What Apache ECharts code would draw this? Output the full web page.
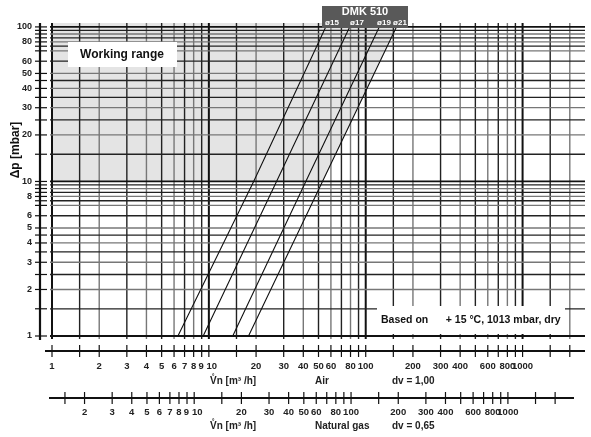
<!DOCTYPE html>
<html><head><meta charset="utf-8">
<script src="https://cdn.jsdelivr.net/npm/echarts@6/dist/echarts.min.js"></script>
<style>html,body{margin:0;padding:0;background:#fff}#c{width:591px;height:437px}</style>
</head><body><div id="c"></div>
<script>
// ---- data ----
const xGrid = [1,1.5,2,3,4,5,6,7,8,9,10,15,20,30,40,50,60,70,80,90,100,150,200,300,400,500,600,700,800,900,1000,1500,2000];
const yGrid = [1,1.5,2,2.5,3,3.5,4,4.5,5,6,7,7.5,8,8.5,9,9.5,10,15,20,25,30,35,40,45,50,60,70,75,80,85,90,95,100];
const yTicks = yGrid;
const yLabels = [1,2,3,4,5,6,8,10,20,30,40,50,60,80,100];
const airTicks = xGrid;
const airLabels = [1,2,3,4,5,6,7,8,9,10,20,30,40,50,60,80,100,200,300,400,600,800,1000];
const gasTicks = [1.5,2,3,4,5,6,7,8,9,10,15,20,30,40,50,60,70,80,90,100,150,200,300,400,500,600,700,800,900,1000,1500,2000];
const gasLabels = [2,3,4,5,6,7,8,9,10,20,30,40,50,60,80,100,200,300,400,600,800,1000];
const dvGas = 0.65; // relative density natural gas vs air
const d15 = [[6.35,1],[19.3,10],[55.6,100]];
const d17 = [[9.2,1],[27,10],[79,100]];
const d19 = [[14.2,1],[41.5,10],[122,100]];
const d21 = [[17.9,1],[53,10],[157,100]];
const workingRange = [[1,10],[53,10],[161,106],[1,106]];
const curveLabels = ['ø15','ø17','ø19','ø21'];

const YMIN=1, YMAX=106;
const F="Liberation Sans, Arial, sans-serif";
const gasFactor = Math.sqrt(dvGas);

const chart = echarts.init(document.getElementById('c'));
function lineSeries(d){return {type:'line',data:d,showSymbol:false,symbol:'none',lineStyle:{color:'#111',width:1.1},z:5,silent:true};}
function lbl(x,y,t,align,size){return {type:'text',x:x,y:y,style:{text:t,textAlign:align||'center',textVerticalAlign:'middle',font:'bold '+(size||10)+'px '+F,fill:'#222'}};}

chart.setOption({
  animation:false,
  grid:{left:52,right:6,top:23,bottom:101},
  xAxis:{type:'log',min:1,max:2500,logBase:10,axisLine:{show:false},axisTick:{show:false},axisLabel:{show:false},splitLine:{show:false}},
  yAxis:{type:'log',min:YMIN,max:YMAX,logBase:10,axisLine:{show:false},axisTick:{show:false},axisLabel:{show:false},splitLine:{show:false}},
  series:[
    {type:'custom',silent:true,z:1,data:[0],renderItem:(p,api)=>({type:'polygon',shape:{points:workingRange.map(q=>api.coord(q))},style:{fill:'#e4e4e4'}})},
    {type:'custom',silent:true,z:2,data:xGrid,clip:false,renderItem:(p,api)=>{const v=xGrid[p.dataIndex];const a=api.coord([v,YMIN]),b=api.coord([v,YMAX]);
      const major=[1,10,100,1000].includes(v);
      return {type:'line',shape:{x1:a[0],y1:a[1]+3,x2:b[0],y2:b[1]},style:{stroke:major?'#111':(p.dataIndex%2?'#222':'#777'),lineWidth:major?2:1.4}};}},
    {type:'custom',silent:true,z:2,data:yGrid,clip:false,renderItem:(p,api)=>{const v=yGrid[p.dataIndex];const a=api.coord([1,v]),b=api.coord([2500,v]);
      const major=[1,10,100].includes(v);
      return {type:'line',shape:{x1:a[0]-2,y1:a[1],x2:b[0],y2:b[1]},style:{stroke:major?'#111':(p.dataIndex%2?'#222':'#777'),lineWidth:major?1.8:1.3}};}},
    lineSeries(d15),lineSeries(d17),lineSeries(d19),lineSeries(d21),
    {type:'custom',silent:true,z:10,data:[0],clip:false,renderItem:(p,api)=>{
      const ch=[];
      ch.push({type:'line',shape:{x1:40,y1:api.coord([1,YMAX])[1],x2:40,y2:api.coord([1,YMIN])[1]+4},style:{stroke:'#111',lineWidth:2.2}});
      yTicks.forEach(v=>{const y=api.coord([1,v])[1];ch.push({type:'line',shape:{x1:35,y1:y,x2:47,y2:y},style:{stroke:'#111',lineWidth:1.2}});});
      yLabels.forEach(v=>{ch.push(lbl(32,api.coord([1,v])[1],String(v),'right',9));});
      ch.push({type:'line',shape:{x1:45,y1:351,x2:585,y2:351},style:{stroke:'#111',lineWidth:2.2}});
      airTicks.forEach(v=>{const x=api.coord([v,1])[0];ch.push({type:'line',shape:{x1:x,y1:345,x2:x,y2:357},style:{stroke:'#111',lineWidth:1.2}});});
      airLabels.forEach(v=>{const x=api.coord([v,1])[0];ch.push(lbl(v===9?x+2:(v===10?x+3:x),366,String(v),v===9?'right':'center',9.5));});
      ch.push({type:'line',shape:{x1:49,y1:398,x2:574,y2:398},style:{stroke:'#111',lineWidth:2.2}});
      gasTicks.forEach(v=>{const x=api.coord([v*gasFactor,1])[0];ch.push({type:'line',shape:{x1:x,y1:392,x2:x,y2:404},style:{stroke:'#111',lineWidth:1.2}});});
      gasLabels.forEach(v=>{const x=api.coord([v*gasFactor,1])[0];ch.push(lbl(v===9?x+2:(v===10?x+3:x),412,String(v),v===9?'right':'center',9.5));});
      return {type:'group',children:ch};
    }}
  ],
  graphic:[
    {type:'rect',shape:{x:68,y:42,width:109,height:25},style:{fill:'#fff'},z:20},
    {type:'text',x:122,y:54.5,style:{text:'Working range',textAlign:'center',textVerticalAlign:'middle',font:'bold 12px '+F,fill:'#111'},z:21},
    {type:'rect',shape:{x:377,y:306,width:188,height:28},style:{fill:'#fff'},z:20},
    {type:'text',x:381,y:320,style:{text:'Based on      + 15 °C, 1013 mbar, dry',textVerticalAlign:'middle',font:'bold 10.5px '+F,fill:'#111'},z:21},
    {type:'rect',shape:{x:322,y:6,width:86,height:22},style:{fill:'#595959'},z:20},
    {type:'text',x:365,y:12,style:{text:'DMK 510',textAlign:'center',textVerticalAlign:'middle',font:'bold 11px '+F,fill:'#fff'},z:21},
    {type:'text',x:332,y:22.5,style:{text:curveLabels[0],textAlign:'center',textVerticalAlign:'middle',font:'bold 8px '+F,fill:'#fff'},z:21},
    {type:'text',x:357,y:22.5,style:{text:curveLabels[1],textAlign:'center',textVerticalAlign:'middle',font:'bold 8px '+F,fill:'#fff'},z:21},
    {type:'text',x:384,y:22.5,style:{text:curveLabels[2],textAlign:'center',textVerticalAlign:'middle',font:'bold 8px '+F,fill:'#fff'},z:21},
    {type:'text',x:400,y:22.5,style:{text:curveLabels[3],textAlign:'center',textVerticalAlign:'middle',font:'bold 8px '+F,fill:'#fff'},z:21},
    {type:'text',x:16,y:150,rotation:Math.PI/2,style:{text:'Δp [mbar]',textAlign:'center',textVerticalAlign:'middle',font:'bold 12px '+F,fill:'#111'},z:21},
    {type:'text',x:210,y:381,style:{text:'V̊n [m³ /h]',textVerticalAlign:'middle',font:'bold 10px '+F,fill:'#222'},z:21},
    {type:'text',x:315,y:381,style:{text:'Air',textVerticalAlign:'middle',font:'bold 10px '+F,fill:'#222'},z:21},
    {type:'text',x:392,y:381,style:{text:'dv = 1,00',textVerticalAlign:'middle',font:'bold 10px '+F,fill:'#222'},z:21},
    {type:'text',x:210,y:426,style:{text:'V̊n [m³ /h]',textVerticalAlign:'middle',font:'bold 10px '+F,fill:'#222'},z:21},
    {type:'text',x:315,y:426,style:{text:'Natural gas',textVerticalAlign:'middle',font:'bold 10px '+F,fill:'#222'},z:21},
    {type:'text',x:392,y:426,style:{text:'dv = 0,65',textVerticalAlign:'middle',font:'bold 10px '+F,fill:'#222'},z:21}
  ]
});
</script></body></html>
